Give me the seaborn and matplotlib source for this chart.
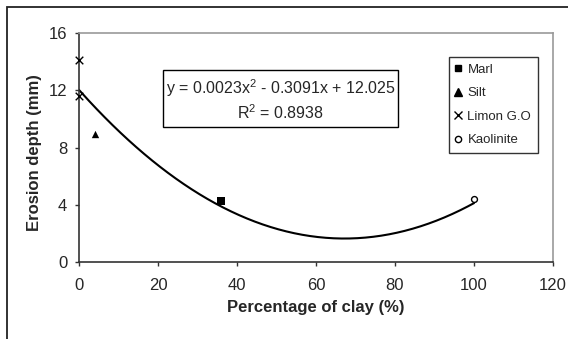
import matplotlib
matplotlib.use("Agg")
import matplotlib.pyplot as plt
import seaborn as sns
import numpy as np
import pandas as pd
from matplotlib.patches import Rectangle
from matplotlib.lines import Line2D

# Data
materials = ["Marl", "Silt", "Limon G.O", "Limon G.O", "Kaolinite"]
clay_pct = [36, 4, 0, 0, 100]
erosion_mm = [4.25, 8.95, 14.1, 11.6, 4.4]
fit_coef = [0.0023, -0.3091, 12.025]
eq_line1 = "y = 0.0023x$^2$ - 0.3091x + 12.025"
eq_line2 = "R$^2$ = 0.8938"
x_ticks = [0, 20, 40, 60, 80, 100, 120]
y_ticks = [0, 4, 8, 12, 16]

sns.set_style("white")
plt.rcParams["font.family"] = ["Liberation Sans", "DejaVu Sans"]
plt.rcParams["mathtext.fontset"] = "custom"
plt.rcParams["mathtext.rm"] = "Liberation Sans"
plt.rcParams["mathtext.it"] = "Liberation Sans"

W, H = 568, 339
fig = plt.figure(figsize=(W / 100, H / 100), dpi=100)
ax = fig.add_axes([79 / W, 1 - 262 / H, (553 - 79) / W, (262 - 33) / H])

# outer chart frame (cropped on right/bottom)
fig.patches.append(Rectangle((7 / W, -0.1), 1.2, 1 - 7 / H + 0.1, transform=fig.transFigure,
                             fill=False, edgecolor="#222222", linewidth=1.3))

# trendline
xf = np.linspace(0, 100, 201)
yf = np.polyval(fit_coef, xf)
sns.lineplot(x=xf, y=yf, ax=ax, color="black", linewidth=1.5, zorder=2)

df = pd.DataFrame({"Material": materials, "Clay": clay_pct, "Depth": erosion_mm})
marker_map = {"Marl": "s", "Silt": "^", "Limon G.O": "x", "Kaolinite": "o"}
order = ["Marl", "Silt", "Limon G.O", "Kaolinite"]
for m in order:
    sub = df[df["Material"] == m]
    mk = marker_map[m]
    if mk == "o":
        sns.scatterplot(data=sub, x="Clay", y="Depth", ax=ax, marker="o", s=18,
                        facecolor="white", edgecolor="black", linewidth=1.0, zorder=3, clip_on=False)
    elif mk == "x":
        sns.scatterplot(data=sub, x="Clay", y="Depth", ax=ax, marker="x", s=30,
                        color="black", linewidth=1.0, zorder=3, clip_on=False)
    else:
        sns.scatterplot(data=sub, x="Clay", y="Depth", ax=ax, marker=mk, s=28,
                        color="black", edgecolor="black", linewidth=0, zorder=3, clip_on=False)

ax.set_xlim(0, 120)
ax.set_ylim(0, 16)
ax.set_xticks(x_ticks)
ax.set_yticks(y_ticks)
ax.tick_params(axis="both", which="major", labelsize=12, length=3, width=1,
               direction="out", color="#333333", bottom=True, left=True)
ax.tick_params(axis="x", pad=8.5)
ax.tick_params(axis="y", pad=5.5)
for s in ["left", "bottom"]:
    ax.spines[s].set_color("#333333")
    ax.spines[s].set_linewidth(1.2)
for s in ["top", "right"]:
    ax.spines[s].set_color("#999999")
    ax.spines[s].set_linewidth(1.2)

ax.set_xlabel("Percentage of clay (%)", fontsize=12, fontweight="bold", labelpad=5.3)
ax.set_ylabel("Erosion depth (mm)", fontsize=12, fontweight="bold")
ax.yaxis.set_label_coords(-0.079, 0.48)

# equation box
ax.add_patch(Rectangle((0.1772, 0.5895), 0.4958, 0.2489, transform=ax.transAxes,
                       facecolor="white", edgecolor="black", linewidth=1.0, zorder=4))
ax.text(0.425, 0.760, eq_line1, transform=ax.transAxes, ha="center", va="center",
        fontsize=11.5, zorder=5)
ax.text(0.425, 0.651, eq_line2, transform=ax.transAxes, ha="center", va="center",
        fontsize=11.5, zorder=5)

handles = [
    Line2D([], [], marker="s", color="black", linestyle="none", markersize=4.5),
    Line2D([], [], marker="^", color="black", linestyle="none", markersize=5.5),
    Line2D([], [], marker="x", color="black", linestyle="none", markersize=5.5, markeredgewidth=1),
    Line2D([], [], marker="o", markerfacecolor="white", markeredgecolor="black", linestyle="none",
           markersize=4.5),
]
leg = ax.legend(handles, order, loc="upper right", bbox_to_anchor=(0.968, 0.895),
                fontsize=9.5, frameon=True, fancybox=False, handlelength=0.4,
                handletextpad=0.5, borderpad=0.5, labelspacing=0.85, borderaxespad=0)
leg.get_frame().set_edgecolor("black")
leg.get_frame().set_linewidth(1.0)

fig.savefig("out.png", dpi=100)
